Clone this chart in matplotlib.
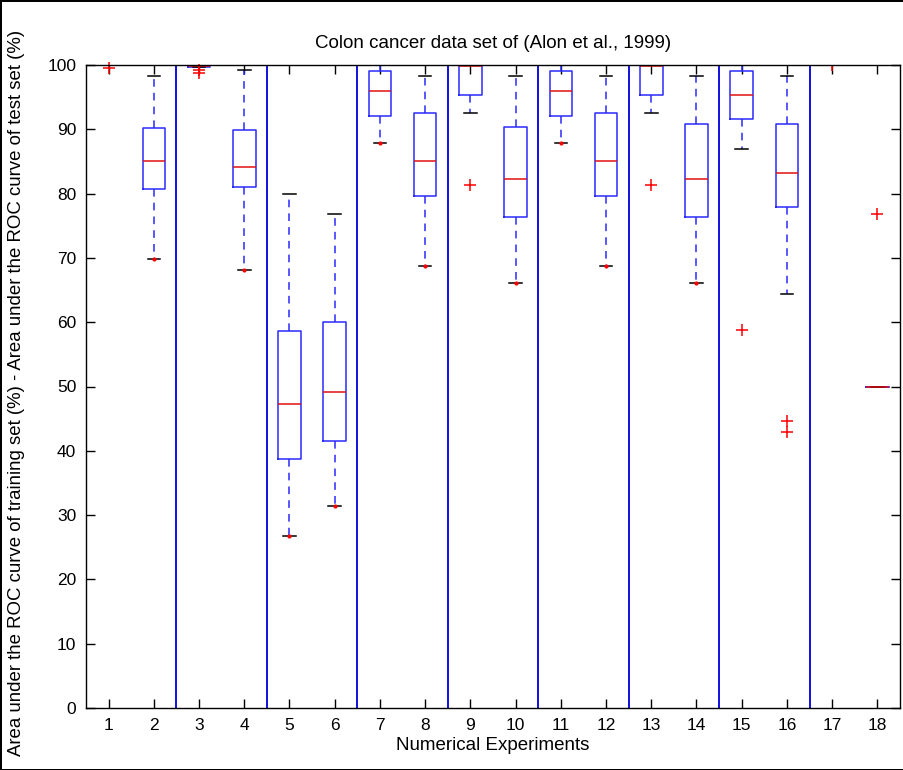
import numpy as np
import matplotlib.pyplot as plt

plt.rcParams['font.family'] = ['Liberation Sans', 'DejaVu Sans']

# five-number summaries per experiment (percent)
experiments = list(range(1, 19))
whislo = [100, 69.8, 99.7, 68.1, 26.8, 31.4, 87.8, 68.8, 92.5, 66.1,
          87.8, 68.8, 92.5, 66.1, 87.0, 64.4, 100, 50]
q1 = [100, 80.7, 99.7, 81.1, 38.8, 41.6, 92.1, 79.7, 95.3, 76.4,
      92.1, 79.7, 95.3, 76.4, 91.6, 77.9, 100, 50]
med = [100, 85.0, 99.9, 84.2, 47.3, 49.2, 96.0, 85.0, 99.8, 82.3,
       96.0, 85.0, 99.8, 82.3, 95.4, 83.2, 100, 50]
q3 = [100, 90.2, 100, 89.9, 58.7, 60.1, 99.1, 92.6, 100, 90.4,
      99.1, 92.6, 100, 90.9, 99.1, 90.8, 100, 50]
whishi = [100, 98.3, 100, 99.2, 80.0, 76.9, 100, 98.3, 100, 98.3,
          100, 98.3, 100, 98.3, 100, 98.3, 100, 50]
fliers = [[99.6], [], [99.3, 98.8], [], [], [], [], [], [81.4], [],
          [], [], [81.4], [], [58.8], [44.7, 43.0], [100], [76.9]]
# experiments whose lowest whisker point is marked with a dot
low_dot = [2, 4, 5, 6, 7, 8, 10, 11, 12, 14]
separators = [2.5, 4.5, 6.5, 8.5, 10.5, 12.5, 14.5, 16.5]

stats = []
for i in range(len(experiments)):
    stats.append(dict(med=med[i], q1=q1[i], q3=q3[i], whislo=whislo[i],
                      whishi=whishi[i], fliers=fliers[i]))

fig = plt.figure(figsize=(9.04, 7.70), dpi=100)
fig.patch.set_edgecolor('black')
fig.patch.set_linewidth(2)
ax = fig.add_axes([86 / 904, 1 - 708 / 770, (900 - 86) / 904, (708 - 65) / 770])

blue = '#2a2aff'
bp = ax.bxp(stats, positions=experiments, widths=0.5, capwidths=0.28,
            boxprops=dict(color=blue, linewidth=1.1),
            medianprops=dict(color='#e01010', linewidth=1.1),
            whiskerprops=dict(color=blue, linewidth=1.1, linestyle=(0, (5, 4))),
            capprops=dict(color='black', linewidth=1.1),
            flierprops=dict(marker='+', markeredgecolor='red', markersize=9,
                            markeredgewidth=1.1, linestyle='none'))
# let the outlier crosses spill over the top frame, except the one sitting on it
for i, fl in enumerate(bp['fliers']):
    if i != 16:
        fl.set_clip_on(False)

ax.plot(low_dot, [whislo[e - 1] for e in low_dot], linestyle='none',
        marker='.', color='red', markersize=4)

for s in separators:
    ax.axvline(s, color='#1010e0', linewidth=1.4)

ax.set_xlim(0.5, 18.5)
ax.set_ylim(0, 100)
ax.set_xticks(experiments)
ax.set_xticklabels([str(e) for e in experiments])
ax.set_yticks(np.arange(0, 101, 10))
ax.tick_params(direction='in', length=6.5, width=1, top=True, right=True,
               labelsize=12.5, pad=7)
for sp in ax.spines.values():
    sp.set_linewidth(1)

ax.set_title('Colon cancer data set of (Alon et al., 1999)', fontsize=13.5, pad=12)
ax.set_xlabel('Numerical Experiments', fontsize=13.5, labelpad=3)
ax.set_ylabel('Area under the ROC curve of training set (%) - '
              'Area under the ROC curve of test set (%)', fontsize=13.4)
ax.yaxis.set_label_coords(-0.075, 0.49)

fig.savefig('out.png', dpi=100)
